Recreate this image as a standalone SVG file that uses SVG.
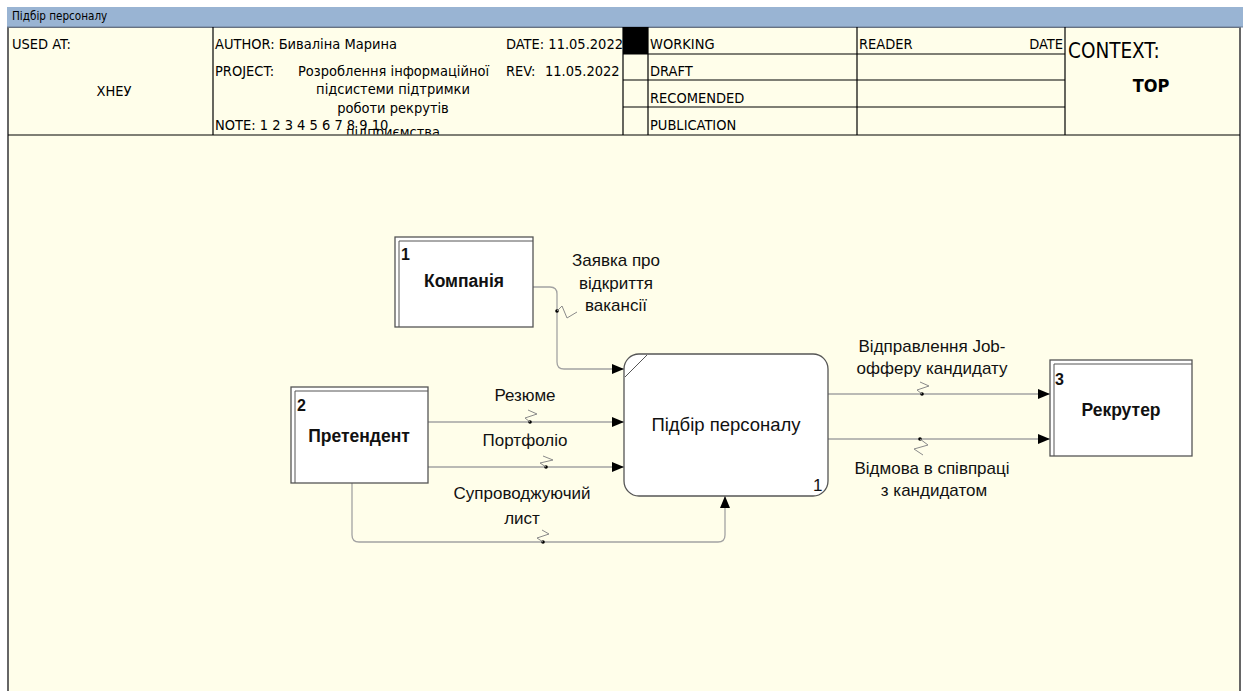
<svg xmlns="http://www.w3.org/2000/svg" width="1246" height="691" viewBox="0 0 1246 691">
<style>
.hdr{font-family:"DejaVu Sans","Liberation Sans",sans-serif;font-stretch:condensed;font-size:14.5px;fill:#000}
.lbl{font-family:"Liberation Sans",Arial,sans-serif;font-size:17px;fill:#111}
.nodeT{font-family:"Liberation Sans",Arial,sans-serif;font-size:17.5px;font-weight:bold;fill:#111}
.num{font-family:"Liberation Sans",Arial,sans-serif;font-size:16px;font-weight:bold;fill:#111}
.ln{stroke:#000;stroke-width:1.2;fill:none}
.conn{stroke:#a3a3a3;stroke-width:1.3;fill:none}
.sq{stroke:#8a8a8a;stroke-width:1;fill:none}
.box{fill:#fff;stroke:#555;stroke-width:1.3}
.inner{stroke:#555;stroke-width:1;fill:none}
</style>
<defs>
<marker id="arr" viewBox="0 0 12 10" refX="12" refY="5" markerWidth="12" markerHeight="10" markerUnits="userSpaceOnUse" orient="auto">
<path d="M0,0 L12,5 L0,10 Z" fill="#000"/>
</marker>
<clipPath id="projClip"><rect x="214" y="55" width="290" height="79.5"/></clipPath>
</defs>
<rect x="0" y="0" width="1246" height="691" fill="#fff"/>
<rect x="8" y="27" width="1232" height="670" fill="#FFFEEA" stroke="#666" stroke-width="2"/>
<rect x="7" y="7" width="1236" height="20" fill="#99B4D3"/>
<line x1="7" y1="27" x2="1243" y2="27" stroke="#6b7f99" stroke-width="1"/>
<text x="12" y="20" font-family="DejaVu Sans,Liberation Sans,sans-serif" font-stretch="condensed" font-size="11.6" fill="#000">Підбір персоналу</text>
<g id="header">
<line class="ln" x1="8" y1="135" x2="1240" y2="135"/>
<line class="ln" x1="213" y1="27" x2="213" y2="135"/>
<line class="ln" x1="623" y1="27" x2="623" y2="135"/>
<line class="ln" x1="648" y1="27" x2="648" y2="135"/>
<line class="ln" x1="857" y1="27" x2="857" y2="135"/>
<line class="ln" x1="1065" y1="27" x2="1065" y2="135"/>
<line class="ln" x1="623" y1="54" x2="1065" y2="54"/>
<line class="ln" x1="623" y1="80" x2="1065" y2="80"/>
<line class="ln" x1="623" y1="107" x2="1065" y2="107"/>
<rect x="623" y="27" width="25" height="27" fill="#000"/>
<text class="hdr" x="12" y="49">USED AT:</text>
<text class="hdr" x="114" y="96" text-anchor="middle">ХНЕУ</text>
<text class="hdr" x="215" y="49">AUTHOR: Биваліна Марина</text>
<text class="hdr" x="215" y="76">PROJECT:</text>
<g clip-path="url(#projClip)">
<text class="hdr" x="298" y="76">Розроблення інформаційної</text>
<text class="hdr" x="393" y="94" text-anchor="middle">підсистеми підтримки</text>
<text class="hdr" x="393" y="113" text-anchor="middle">роботи рекрутів</text>
<text class="hdr" x="393" y="137" text-anchor="middle">підприємства</text>
</g>
<text class="hdr" x="215" y="130">NOTE: 1 2 3 4 5 6 7 8 9 10</text>
<text class="hdr" x="506" y="49">DATE: 11.05.2022</text>
<text class="hdr" x="506" y="76">REV:  <tspan x="545">11.05.2022</tspan></text>
<text class="hdr" x="650" y="49">WORKING</text>
<text class="hdr" x="650" y="76">DRAFT</text>
<text class="hdr" x="650" y="103">RECOMENDED</text>
<text class="hdr" x="650" y="130">PUBLICATION</text>
<text class="hdr" x="859" y="49">READER</text>
<text class="hdr" x="1063" y="49" text-anchor="end">DATE</text>
<text class="hdr" x="1068" y="58" style="font-size:20.5px">CONTEXT:</text>
<text class="hdr" x="1151" y="92" text-anchor="middle" style="font-size:18px;font-weight:bold">TOP</text>
</g>
<g id="connectors">
<path class="conn" d="M533,287 H550 Q557,287 557,294 V362 Q557,369 564,369 H624" marker-end="url(#arr)"/>
<circle cx="557" cy="311" r="1.8" fill="#000"/>
<path class="sq" d="M557,311 L562,306 L567,318 L577,312"/>
<path class="conn" d="M428,422 H624" marker-end="url(#arr)"/>
<circle cx="530" cy="422" r="1.8" fill="#000"/>
<path class="sq" d="M530,422 L525,418 L537,414 L528,410"/>
<path class="conn" d="M428,467 H624" marker-end="url(#arr)"/>
<circle cx="546" cy="467" r="1.8" fill="#000"/>
<path class="sq" d="M546,467 L540,463 L553,460 L543,456"/>
<path class="conn" d="M352,483 V535 Q352,542 359,542 H718 Q725,542 725,535 V496" marker-end="url(#arr)"/>
<circle cx="543" cy="542" r="1.8" fill="#000"/>
<path class="sq" d="M543,542 L537,538 L549,534 L542,530"/>
<path class="conn" d="M828,394 H1050" marker-end="url(#arr)"/>
<circle cx="922" cy="394" r="1.8" fill="#000"/>
<path class="sq" d="M922,394 L917,390 L929,386 L920,382"/>
<path class="conn" d="M828,439 H1050" marker-end="url(#arr)"/>
<circle cx="920" cy="439" r="1.8" fill="#000"/>
<path class="sq" d="M920,439 L928,445 L914,449 L923,455"/>
<text class="lbl" x="616" y="266" text-anchor="middle">Заявка про</text>
<text class="lbl" x="616" y="289" text-anchor="middle">відкриття</text>
<text class="lbl" x="616" y="311" text-anchor="middle">вакансії</text>
<text class="lbl" x="525" y="401" text-anchor="middle">Резюме</text>
<text class="lbl" x="525" y="446" text-anchor="middle">Портфоліо</text>
<text class="lbl" x="522" y="499" text-anchor="middle">Супроводжуючий</text>
<text class="lbl" x="522" y="524" text-anchor="middle">лист</text>
<text class="lbl" x="932" y="352" text-anchor="middle">Відправлення Job-</text>
<text class="lbl" x="932" y="374" text-anchor="middle">офферу кандидату</text>
<text class="lbl" x="932" y="474" text-anchor="middle">Відмова в співпраці</text>
<text class="lbl" x="934" y="496" text-anchor="middle">з кандидатом</text>
</g>
<g id="node-kompaniya">
<rect class="box" x="395" y="237" width="138" height="90"/>
<path class="inner" d="M399,327 V241 H533"/>
<text class="num" x="401" y="260">1</text>
<text class="nodeT" x="464" y="287" text-anchor="middle">Компанія</text>
</g>
<g id="node-pretendent">
<rect class="box" x="291" y="387" width="137" height="96"/>
<path class="inner" d="M295,483 V391 H428"/>
<text class="num" x="297" y="411">2</text>
<text class="nodeT" x="359" y="442" text-anchor="middle">Претендент</text>
</g>
<g id="node-rekruter">
<rect class="box" x="1050" y="360" width="142" height="96"/>
<path class="inner" d="M1054,456 V364 H1192"/>
<text class="num" x="1055" y="385">3</text>
<text class="nodeT" x="1121" y="416" text-anchor="middle">Рекрутер</text>
</g>
<g id="process-1">
<rect x="624" y="354" width="204" height="142" rx="15" ry="15" fill="#fff" stroke="#555" stroke-width="1.3"/>
<line x1="625" y1="377" x2="647" y2="355" stroke="#555" stroke-width="1"/>
<text class="lbl" x="726" y="431" text-anchor="middle" style="font-size:18.5px">Підбір персоналу</text>
<text class="lbl" x="813" y="491" style="font-size:17px">1</text>
</g>
</svg>
